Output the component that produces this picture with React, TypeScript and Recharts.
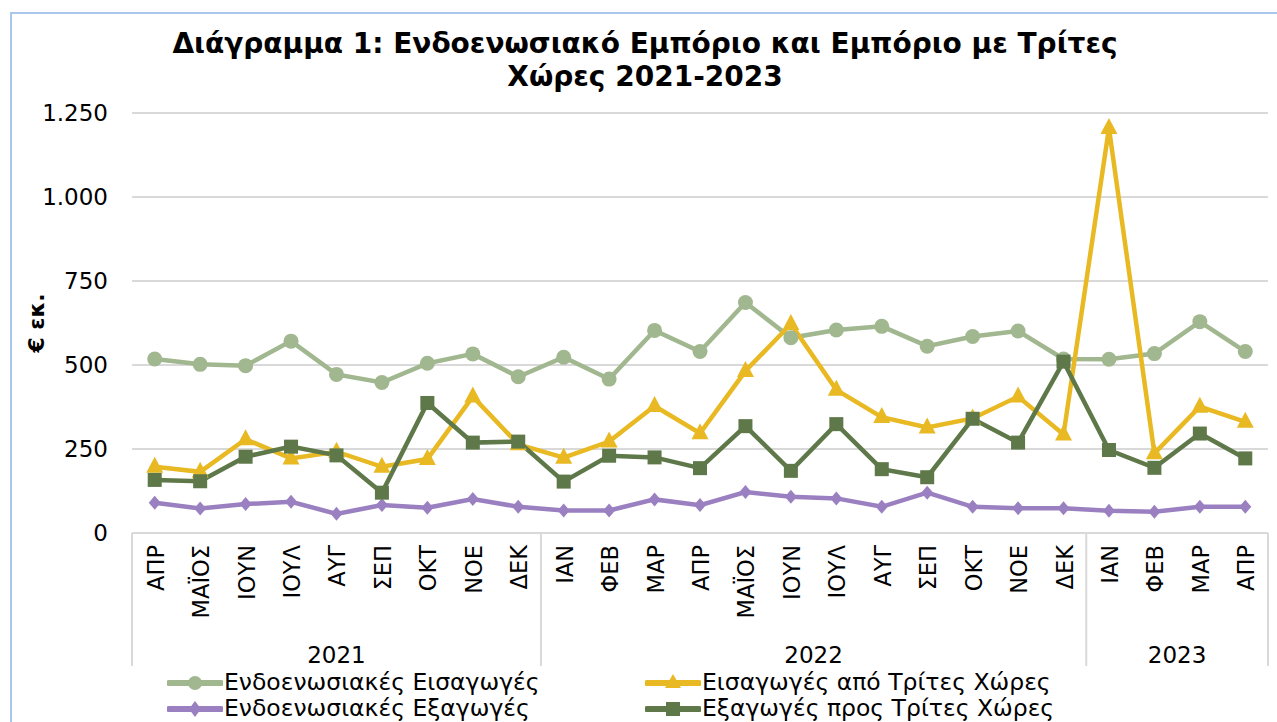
import React from "react";
import { LineChart, Line, XAxis, YAxis, CartesianGrid } from "recharts";

const MONTHS = ["ΑΠΡ", "ΜΑΪΟΣ", "ΙΟΥΝ", "ΙΟΥΛ", "ΑΥΓ", "ΣΕΠ", "ΟΚΤ", "ΝΟΕ", "ΔΕΚ", "ΙΑΝ", "ΦΕΒ", "ΜΑΡ", "ΑΠΡ", "ΜΑΪΟΣ", "ΙΟΥΝ", "ΙΟΥΛ", "ΑΥΓ", "ΣΕΠ", "ΟΚΤ", "ΝΟΕ", "ΔΕΚ", "ΙΑΝ", "ΦΕΒ", "ΜΑΡ", "ΑΠΡ"];
const YEARS = ["2021", "2021", "2021", "2021", "2021", "2021", "2021", "2021", "2021", "2022", "2022", "2022", "2022", "2022", "2022", "2022", "2022", "2022", "2022", "2022", "2022", "2023", "2023", "2023", "2023"];
const endoImports = [518, 502, 498, 571, 472, 448, 505, 533, 465, 523, 458, 603, 540, 686, 581, 604, 615, 556, 585, 601, 518, 517, 534, 629, 540];
const thirdImports = [197, 182, 279, 222, 242, 197, 220, 406, 264, 224, 272, 378, 297, 482, 622, 426, 345, 314, 341, 406, 293, 1205, 237, 376, 331];
const endoExports = [90, 73, 86, 93, 57, 83, 75, 101, 78, 67, 67, 100, 83, 122, 108, 103, 78, 120, 78, 74, 74, 66, 63, 78, 78];
const thirdExports = [158, 154, 227, 257, 231, 120, 387, 269, 272, 153, 230, 225, 193, 318, 185, 324, 190, 166, 340, 269, 510, 247, 194, 296, 222];
const Y_TICKS = [0, 250, 500, 750, 1000, 1250];
const SERIES_NAMES = ["Ενδοενωσιακές Εισαγωγές", "Εισαγωγές από Τρίτες Χώρες", "Ενδοενωσιακές Εξαγωγές", "Εξαγωγές προς Τρίτες Χώρες"];
const TITLE_1 = "Διάγραμμα 1: Ενδοενωσιακό Εμπόριο και Εμπόριο με Τρίτες";
const TITLE_2 = "Χώρες 2021-2023";
const Y_LABEL = "€ εκ.";

const C_ENDO_IMP = "#A1B78F";
const C_THIRD_IMP = "#E8B923";
const C_ENDO_EXP = "#9A80C0";
const C_THIRD_EXP = "#5E7849";

const data = MONTHS.map((m, i) => ({
  key: `${YEARS[i]}-${i}`,
  month: m,
  year: YEARS[i],
  endoImports: endoImports[i],
  thirdImports: thirdImports[i],
  endoExports: endoExports[i],
  thirdExports: thirdExports[i],
}));

const CHART_W = 1300;
const CHART_H = 722;
const Y_AXIS_W = 132;
const M_RIGHT = 32;
const PLOT_W = CHART_W - Y_AXIS_W - M_RIGHT;
const BAND = PLOT_W / MONTHS.length;
const FONT = "'DejaVu Sans', Verdana, sans-serif";
const GRID = "#D9D9D9";

const fmt = (v: number) => String(v).replace(/\B(?=(\d{3})+(?!\d))/g, ".");

const MonthTick = (props: any) => {
  const { x, y, payload } = props;
  const i: number = payload.index;
  const year = YEARS[i];
  const isFirst = i === 0 || YEARS[i - 1] !== year;
  const isLast = i === MONTHS.length - 1;
  const count = YEARS.filter((yy) => yy === year).length;
  return (
    <g>
      <text
        transform={`translate(${x + 1},${y + 12}) rotate(-90)`}
        textAnchor="end"
        dominantBaseline="central"
        fontFamily={FONT}
        fontSize={22.5}
        fill="#000"
      >
        {MONTHS[i]}
      </text>
      {isFirst && (
        <line x1={x - BAND / 2} x2={x - BAND / 2} y1={y} y2={y + 133} stroke={GRID} strokeWidth={2} />
      )}
      {isLast && (
        <line x1={x + BAND / 2} x2={x + BAND / 2} y1={y} y2={y + 133} stroke={GRID} strokeWidth={2} />
      )}
      {isFirst && (
        <text
          x={x + ((count - 1) / 2) * BAND}
          y={y + 130}
          textAnchor="middle"
          fontFamily={FONT}
          fontSize={23}
          fill="#000"
        >
          {year}
        </text>
      )}
    </g>
  );
};

const YTick = (props: any) => {
  const { x, y, payload } = props;
  return (
    <text x={x} y={y} textAnchor="end" dominantBaseline="central" fontFamily={FONT} fontSize={23} fill="#000">
      {fmt(payload.value)}
    </text>
  );
};

const circleDot = (color: string) => (p: any) => (
  <circle key={`c${p.index}`} cx={p.cx} cy={p.cy} r={7.5} fill={color} />
);
const triDot = (color: string) => (p: any) => (
  <polygon
    key={`t${p.index}`}
    points={`${p.cx},${p.cy - 10} ${p.cx + 8.5},${p.cy + 6} ${p.cx - 8.5},${p.cy + 6}`}
    fill={color}
  />
);
const diamondDot = (color: string) => (p: any) => (
  <polygon
    key={`d${p.index}`}
    points={`${p.cx},${p.cy - 7} ${p.cx + 6},${p.cy} ${p.cx},${p.cy + 7} ${p.cx - 6},${p.cy}`}
    fill={color}
  />
);
const squareDot = (color: string) => (p: any) => (
  <rect key={`s${p.index}`} x={p.cx - 7} y={p.cy - 7} width={14} height={14} fill={color} />
);

const LegendMarker = ({ color, kind }: { color: string; kind: string }) => (
  <svg width={56} height={20} style={{ display: "block" }}>
    <line x1={2} x2={54} y1={10} y2={10} stroke={color} strokeWidth={6} strokeLinecap="round" />
    {kind === "circle" && <circle cx={28} cy={10} r={7} fill={color} />}
    {kind === "tri" && <polygon points="28,1 36,15 20,15" fill={color} />}
    {kind === "diamond" && <polygon points="28,2 34,10 28,18 22,10" fill={color} />}
    {kind === "square" && <rect x={21} y={3} width={14} height={14} fill={color} />}
  </svg>
);

const LegendItem = ({ left, top, color, kind, label }: any) => (
  <div style={{ position: "absolute", left, top, display: "flex", alignItems: "center", height: 25 }}>
    <LegendMarker color={color} kind={kind} />
    <span style={{ fontFamily: FONT, fontSize: 23.5, lineHeight: "25px", color: "#000", marginLeft: 1, whiteSpace: "nowrap" }}>{label}</span>
  </div>
);

export default function App() {
  return (
    <div
      style={{
        position: "fixed",
        left: 0,
        top: 0,
        width: 1277,
        height: 722,
        overflow: "hidden",
        background: "#fff",
      }}
    >
      <div
        style={{
          position: "absolute",
          left: 10,
          top: 12,
          width: 1400,
          height: 900,
          border: "2px solid #A9C6EC",
          boxSizing: "border-box",
        }}
      />
      <div
        style={{
          position: "absolute",
          left: 0,
          top: 27,
          width: 1290,
          textAlign: "center",
          fontFamily: FONT,
          fontWeight: "bold",
          fontSize: 28,
          lineHeight: "33px",
          color: "#000",
        }}
      >
        <div>{TITLE_1}</div>
        <div>{TITLE_2}</div>
      </div>
      <div style={{ position: "absolute", left: 0, top: 0 }}>
        <LineChart
          width={CHART_W}
          height={CHART_H}
          data={data}
          margin={{ top: 113, right: M_RIGHT, left: 0, bottom: 49 }}
        >
          <CartesianGrid horizontal vertical={false} stroke={GRID} strokeWidth={2} />
          <XAxis
            dataKey="key"
            height={140}
            interval={0}
            padding={{ left: BAND / 2, right: BAND / 2 }}
            tick={<MonthTick />}
            tickLine={false}
            tickSize={0}
            tickMargin={0}
            axisLine={{ stroke: GRID, strokeWidth: 2 }}
          />
          <YAxis
            width={Y_AXIS_W}
            domain={[0, 1250]}
            ticks={Y_TICKS}
            interval={0}
            tick={<YTick />}
            tickLine={false}
            axisLine={false}
            tickSize={0}
            tickMargin={24}
            label={{
              value: Y_LABEL,
              angle: -90,
              position: "insideLeft",
              offset: 36,
              style: { fontFamily: FONT, fontSize: 22, fontWeight: "bold", fill: "#000", textAnchor: "middle" },
            }}
          />
          <Line
            dataKey="endoImports"
            name={SERIES_NAMES[0]}
            stroke={C_ENDO_IMP}
            strokeWidth={4.5}
            dot={circleDot(C_ENDO_IMP)}
            isAnimationActive={false}
          />
          <Line
            dataKey="thirdImports"
            name={SERIES_NAMES[1]}
            stroke={C_THIRD_IMP}
            strokeWidth={4.5}
            dot={triDot(C_THIRD_IMP)}
            isAnimationActive={false}
          />
          <Line
            dataKey="endoExports"
            name={SERIES_NAMES[2]}
            stroke={C_ENDO_EXP}
            strokeWidth={4.5}
            dot={diamondDot(C_ENDO_EXP)}
            isAnimationActive={false}
          />
          <Line
            dataKey="thirdExports"
            name={SERIES_NAMES[3]}
            stroke={C_THIRD_EXP}
            strokeWidth={4.5}
            dot={squareDot(C_THIRD_EXP)}
            isAnimationActive={false}
          />
        </LineChart>
      </div>
      <LegendItem left={167} top={670} color={C_ENDO_IMP} kind="circle" label={SERIES_NAMES[0]} />
      <LegendItem left={645} top={670} color={C_THIRD_IMP} kind="tri" label={SERIES_NAMES[1]} />
      <LegendItem left={167} top={696} color={C_ENDO_EXP} kind="diamond" label={SERIES_NAMES[2]} />
      <LegendItem left={645} top={696} color={C_THIRD_EXP} kind="square" label={SERIES_NAMES[3]} />
    </div>
  );
}
